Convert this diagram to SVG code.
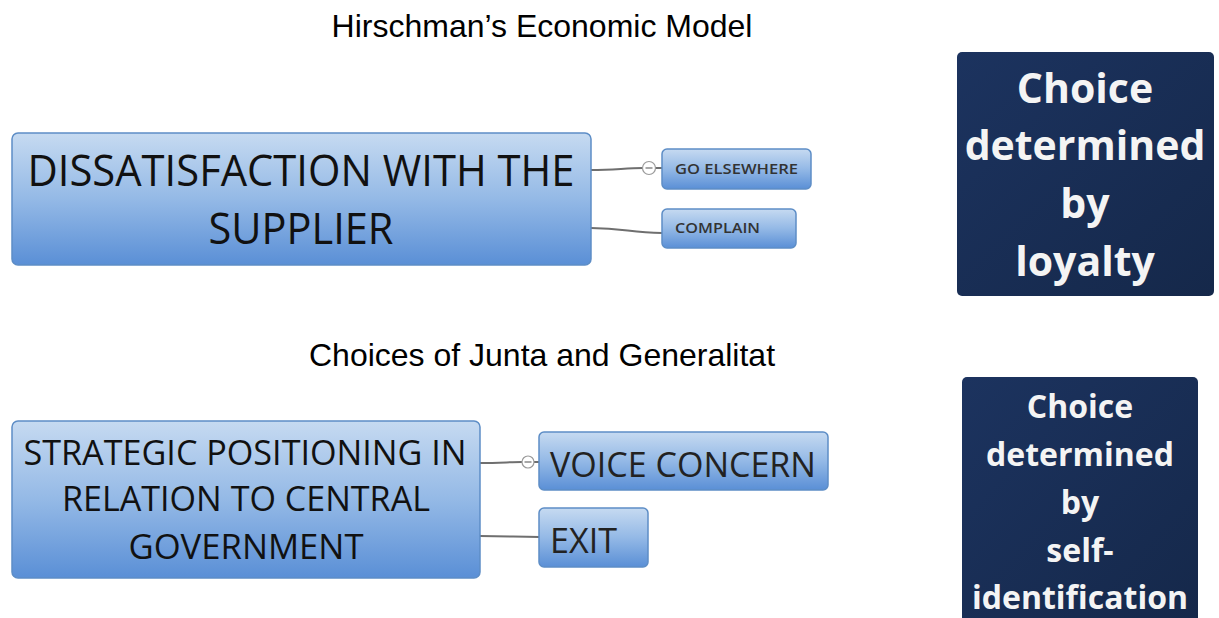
<svg xmlns="http://www.w3.org/2000/svg" width="1219" height="618" viewBox="0 0 1219 618">
  <defs>
    <linearGradient id="blueFill" x1="0" y1="0" x2="0" y2="1">
      <stop offset="0" stop-color="#c6daf1"/>
      <stop offset="0.5" stop-color="#94b9e6"/>
      <stop offset="1" stop-color="#5a8fd6"/>
    </linearGradient>
    <linearGradient id="navyFill" x1="0" y1="0" x2="1" y2="1">
      <stop offset="0" stop-color="#1c335f"/>
      <stop offset="1" stop-color="#15284a"/>
    </linearGradient>
    <style>
      .title { font-family: "Liberation Sans", Arial, sans-serif; font-size: 32px; fill: #000; text-anchor: middle; }
      .topic { fill: url(#blueFill); stroke: #5d8dc6; stroke-width: 1.5; }
      .topicText { font-family: "Open Sans", "Noto Sans", sans-serif; fill: #111; text-anchor: middle; }
      .sub { fill: url(#blueFill); stroke: #5d8dc6; stroke-width: 1.5; }
      .subText { font-family: "Open Sans", "Noto Sans", sans-serif; fill: #222; }
      .small { font-weight: 600; fill: #333; }
      .navy { fill: url(#navyFill); }
      .navyText { font-family: "Open Sans", "Noto Sans", sans-serif; font-weight: bold; fill: #f4f4f4; text-anchor: middle; }
      .link { fill: none; stroke: #6f6f6f; stroke-width: 2; }
      .fold { fill: #fff; stroke: #9a9a9a; stroke-width: 1.2; }
      .foldBar { stroke: #8a8a8a; stroke-width: 1.5; }
    </style>
  </defs>

  <rect width="1219" height="618" fill="#ffffff"/>

  <!-- section headings -->
  <text class="title" x="542" y="37">Hirschman’s Economic Model</text>
  <text class="title" x="542" y="366">Choices of Junta and Generalitat</text>

  <!-- connectors -->
  <g id="connectors">
    <path class="link" d="M591,170 C615,170 625,168 643,168"/>
    <path class="link" d="M655,168 L662,168"/>
    <path class="link" d="M591,228 C625,228 630,233 662,233"/>
    <path class="link" d="M480,463 C500,463 510,462 522,462"/>
    <path class="link" d="M534,462 L539,462"/>
    <path class="link" d="M480,536 C510,536 515,537 539,537"/>
    <circle class="fold" cx="649" cy="168" r="6.5"/>
    <line class="foldBar" x1="645.5" y1="168" x2="652.5" y2="168"/>
    <circle class="fold" cx="528" cy="462" r="6"/>
    <line class="foldBar" x1="524.5" y1="462" x2="531.5" y2="462"/>
  </g>

  <!-- upper map -->
  <g id="dissatisfaction">
    <rect class="topic" x="12" y="133" width="579" height="132" rx="6"/>
    <text class="topicText" x="301" y="186" font-size="44" textLength="547" lengthAdjust="spacingAndGlyphs">DISSATISFACTION WITH THE</text>
    <text class="topicText" x="301" y="244" font-size="44" textLength="185" lengthAdjust="spacingAndGlyphs">SUPPLIER</text>
  </g>
  <g id="go-elsewhere">
    <rect class="sub" x="662" y="149" width="149" height="40" rx="5"/>
    <text class="subText small" x="675" y="174" font-size="15" textLength="123" lengthAdjust="spacingAndGlyphs">GO ELSEWHERE</text>
  </g>
  <g id="complain">
    <rect class="sub" x="662" y="209" width="134" height="39" rx="5"/>
    <text class="subText small" x="675" y="233" font-size="15" textLength="85" lengthAdjust="spacingAndGlyphs">COMPLAIN</text>
  </g>
  <g id="loyalty">
    <rect class="navy" x="957" y="52" width="257" height="244" rx="5"/>
    <text class="navyText" x="1085" y="103" font-size="41">Choice</text>
    <text class="navyText" x="1085" y="160" font-size="41">determined</text>
    <text class="navyText" x="1085" y="218" font-size="41">by</text>
    <text class="navyText" x="1085" y="276" font-size="41">loyalty</text>
  </g>

  <!-- lower map -->
  <g id="strategic-positioning">
    <rect class="topic" x="12" y="421" width="468" height="157" rx="6"/>
    <text class="topicText" x="245" y="465" font-size="34" textLength="443" lengthAdjust="spacingAndGlyphs">STRATEGIC POSITIONING IN</text>
    <text class="topicText" x="246" y="511" font-size="34" textLength="368" lengthAdjust="spacingAndGlyphs">RELATION TO CENTRAL</text>
    <text class="topicText" x="246" y="559" font-size="34" textLength="235" lengthAdjust="spacingAndGlyphs">GOVERNMENT</text>
  </g>
  <g id="voice-concern">
    <rect class="sub" x="539" y="432" width="289" height="58" rx="5"/>
    <text class="subText" x="550" y="477" font-size="34" fill="#111" textLength="266" lengthAdjust="spacingAndGlyphs">VOICE CONCERN</text>
  </g>
  <g id="exit">
    <rect class="sub" x="539" y="508" width="109" height="59" rx="5"/>
    <text class="subText" x="550" y="553" font-size="34" fill="#111" textLength="67" lengthAdjust="spacingAndGlyphs">EXIT</text>
  </g>
  <g id="self-identification">
    <rect class="navy" x="962" y="377" width="236" height="250" rx="5"/>
    <text class="navyText" x="1080" y="418" font-size="32">Choice</text>
    <text class="navyText" x="1080" y="466" font-size="32">determined</text>
    <text class="navyText" x="1080" y="514" font-size="32">by</text>
    <text class="navyText" x="1080" y="562" font-size="32">self-</text>
    <text class="navyText" x="1080" y="609" font-size="32">identification</text>
  </g>
</svg>
